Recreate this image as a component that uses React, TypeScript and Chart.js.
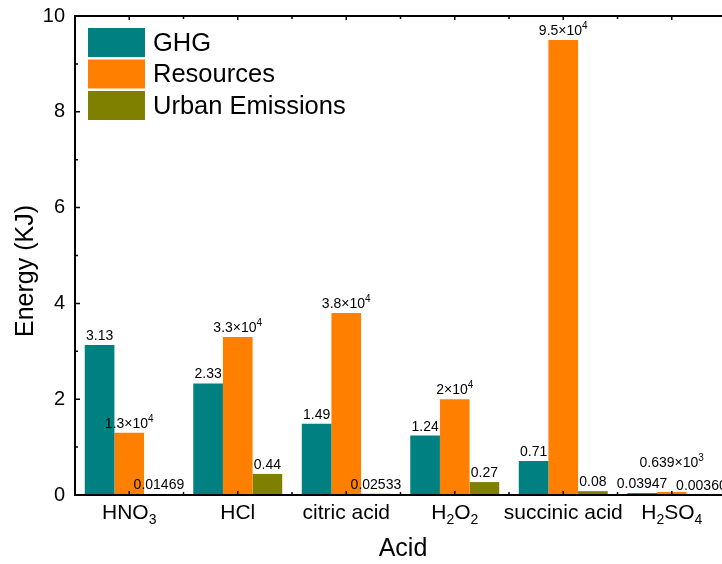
import React, { useEffect, useRef } from "react";
import { Chart, registerables } from "chart.js";

Chart.register(...registerables);

// ---- data ----
const categories = ["HNO3", "HCl", "citric acid", "H2O2", "succinic acid", "H2SO4"];
const seriesNames = ["GHG", "Resources", "Urban Emissions"];
const ghg = [3.13, 2.33, 1.49, 1.24, 0.71, 0.03947];
const resources = [1.3, 3.3, 3.8, 2.0, 9.5, 0.0639]; // plotted in units of 10^4
const urban = [0.01469, 0.44, 0.02533, 0.27, 0.08, 0.0036];
const ghgLabels = ["3.13", "2.33", "1.49", "1.24", "0.71", "0.03947"];
const resourcesMantissa = ["1.3", "3.3", "3.8", "2", "9.5", "0.639"];
const resourcesExponent = ["4", "4", "4", "4", "4", "3"];
const urbanLabels = ["0.01469", "0.44", "0.02533", "0.27", "0.08", "0.00360"];
const yTicks = [0, 2, 4, 6, 8, 10];
const xTitle = "Acid";
const yTitle = "Energy (KJ)";

// ---- style ----
const FONT = "'Liberation Sans', Arial, Helvetica, sans-serif";
const COLORS = ["#008080", "#FF8000", "#808000"];
const CANVAS_W = 726;
const CANVAS_H = 564;

function drawRich(
  ctx: CanvasRenderingContext2D,
  parts: { t: string; mode: "n" | "sub" | "sup" }[],
  cx: number,
  baseline: number,
  size: number,
  smallSize: number,
  subOff: number,
  supOff: number
) {
  const widths = parts.map((p) => {
    ctx.font = `${p.mode === "n" ? size : smallSize}px ${FONT}`;
    return ctx.measureText(p.t).width;
  });
  const total = widths.reduce((a, b) => a + b, 0);
  let x = cx - total / 2;
  ctx.textAlign = "left";
  ctx.textBaseline = "alphabetic";
  parts.forEach((p, i) => {
    ctx.font = `${p.mode === "n" ? size : smallSize}px ${FONT}`;
    const y = p.mode === "sub" ? baseline + subOff : p.mode === "sup" ? baseline - supOff : baseline;
    ctx.fillText(p.t, x, y);
    x += widths[i];
  });
}

function formulaParts(s: string) {
  const parts: { t: string; mode: "n" | "sub" | "sup" }[] = [];
  const isFormula = !/\s/.test(s) && /[A-Z]/.test(s);
  for (const ch of s) {
    const mode = isFormula && /[0-9]/.test(ch) ? "sub" : "n";
    const last = parts[parts.length - 1];
    if (last && last.mode === mode) last.t += ch;
    else parts.push({ t: ch, mode });
  }
  return parts;
}

const decorPlugin = {
  id: "decor",
  afterDraw(chart: any) {
    const ctx: CanvasRenderingContext2D = chart.ctx;
    const { left, top, bottom } = chart.chartArea;
    const xs = chart.scales.x;
    const ys = chart.scales.y;
    const W = chart.width;
    ctx.save();

    // axis lines
    ctx.strokeStyle = "#000";
    ctx.lineWidth = 2;
    ctx.beginPath();
    ctx.moveTo(left - 1, top);
    ctx.lineTo(W, top);
    ctx.moveTo(left, top);
    ctx.lineTo(left, bottom);
    ctx.moveTo(left - 1, bottom);
    ctx.lineTo(W, bottom);
    ctx.stroke();

    // ticks (inward)
    ctx.lineWidth = 1.5;
    ctx.beginPath();
    for (let v = 0; v <= 10; v += 1) {
      const y = ys.getPixelForValue(v);
      const len = v % 2 === 0 ? 5 : 3;
      ctx.moveTo(left, y);
      ctx.lineTo(left + len, y);
    }
    for (let v = 0.5; v <= 6.5; v += 0.5) {
      const x = xs.getPixelForValue(v);
      const len = Number.isInteger(v) ? 4 : 3;
      ctx.moveTo(x, bottom);
      ctx.lineTo(x, bottom - len);
      ctx.moveTo(x, top);
      ctx.lineTo(x, top + len);
    }
    ctx.stroke();

    ctx.fillStyle = "#000";

    // x category labels
    categories.forEach((c, i) => {
      const x = xs.getPixelForValue(i + 1);
      drawRich(ctx, formulaParts(c), x, 519, 21, 14, 5, 0);
    });

    // axis titles
    ctx.font = `25px ${FONT}`;
    ctx.textAlign = "center";
    ctx.textBaseline = "alphabetic";
    ctx.fillText(xTitle, 403, 556);
    ctx.save();
    ctx.translate(33, 271);
    ctx.rotate(-Math.PI / 2);
    ctx.fillText(yTitle, 0, 0);
    ctx.restore();

    // data labels
    const lift = [
      [0, 0, 0, 0, 0, 0],
      [0, 0, 0, 0, 0, 20],
      [0, 0, 0, 0, 0, 0],
    ];
    [0, 1, 2].forEach((d) => {
      const meta = chart.getDatasetMeta(d);
      meta.data.forEach((el: any, i: number) => {
        const base = el.y - 5 - lift[d][i];
        let parts: { t: string; mode: "n" | "sub" | "sup" }[];
        if (d === 0) parts = [{ t: ghgLabels[i], mode: "n" }];
        else if (d === 2) parts = [{ t: urbanLabels[i], mode: "n" }];
        else
          parts = [
            { t: resourcesMantissa[i] + "×10", mode: "n" },
            { t: resourcesExponent[i], mode: "sup" },
          ];
        drawRich(ctx, parts, el.x, base, 14, 10, 0, 6);
      });
    });

    // legend
    seriesNames.forEach((name, i) => {
      const y0 = 28 + i * 31.5;
      ctx.fillStyle = COLORS[i];
      ctx.fillRect(88, y0, 57, 29);
      ctx.fillStyle = "#000";
      ctx.font = `25.5px ${FONT}`;
      ctx.textAlign = "left";
      ctx.textBaseline = "middle";
      ctx.fillText(name, 153, y0 + 15.5);
    });

    ctx.restore();
  },
};

export default function App() {
  const ref = useRef<HTMLCanvasElement | null>(null);

  useEffect(() => {
    if (!ref.current) return;
    const series = [ghg, resources, urban];
    const chart = new Chart(ref.current, {
      type: "bar",
      data: {
        datasets: series.map((s, d) => ({
          label: seriesNames[d],
          data: s.map((v, i) => ({ x: i + 1, y: v })),
          backgroundColor: COLORS[d],
          borderWidth: 0,
          categoryPercentage: 0.82,
          barPercentage: 1,
        })),
      },
      options: {
        responsive: false,
        animation: false,
        layout: { padding: { top: 16, bottom: 69, left: 0, right: 0 } },
        plugins: { legend: { display: false }, tooltip: { enabled: false } },
        scales: {
          x: {
            type: "linear",
            display: false,
            min: 0.5,
            max: 6.5,
            offset: false,
            afterBuildTicks: (s: any) => {
              s.ticks = categories.map((_, i) => ({ value: i + 1 }));
            },
          },
          y: {
            min: 0,
            max: 10,
            afterFit: (s: any) => {
              s.width = 75;
              s.paddingTop = 0;
              s.paddingBottom = 0;
            },
            afterBuildTicks: (s: any) => {
              s.ticks = yTicks.map((v) => ({ value: v }));
            },
            ticks: {
              padding: 10,
              color: "#000",
              font: { size: 20, family: FONT },
            },
            grid: { display: false, drawTicks: false },
            border: { display: false },
          },
        },
      },
      plugins: [decorPlugin],
    } as any);
    return () => chart.destroy();
  }, []);

  return (
    <div
      style={{
        position: "fixed",
        left: 0,
        top: 0,
        width: 722,
        height: 564,
        overflow: "hidden",
        background: "#fff",
      }}
    >
      <canvas ref={ref} width={CANVAS_W} height={CANVAS_H} style={{ display: "block" }} />
    </div>
  );
}
